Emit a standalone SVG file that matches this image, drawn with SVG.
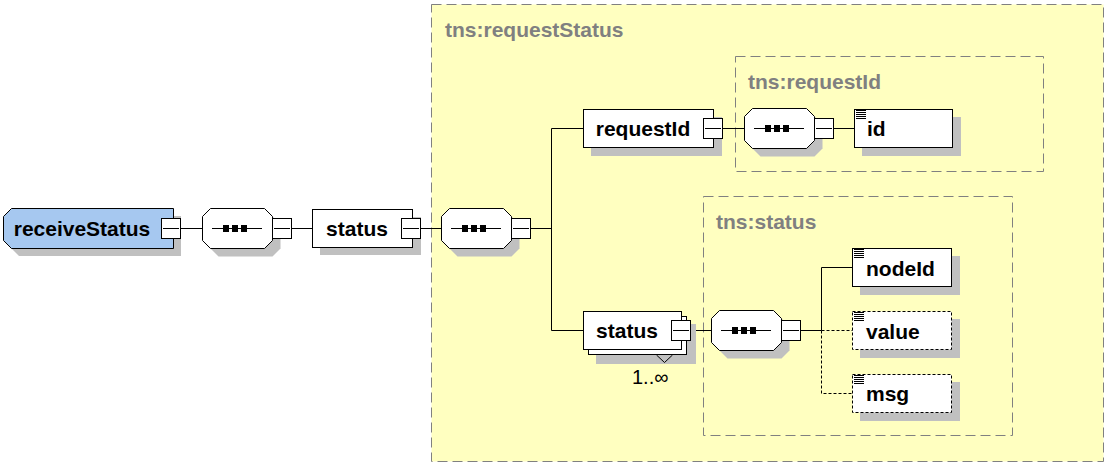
<svg xmlns="http://www.w3.org/2000/svg" width="1107" height="465" viewBox="0 0 1107 465">
<style>
.bg{fill:#ffffff}
.grp{fill:#ffffc0;stroke:#808080;stroke-width:1;stroke-dasharray:10,5}
.grpsub{fill:none;stroke:#808080;stroke-width:1;stroke-dasharray:10,5}
.gl{font-family:"Liberation Sans",Arial,sans-serif;font-size:21px;font-weight:bold;fill:#808080}
.sh{fill:#c0c0c0;stroke:none}
.box{fill:#ffffff;stroke:#000000;stroke-width:1}
.opt{fill:#ffffff;stroke:#000000;stroke-width:1;stroke-dasharray:3,2}
.root{fill:#a6c8f0;stroke:#000000;stroke-width:1}
.t{font-family:"Liberation Sans",Arial,sans-serif;font-size:21px;font-weight:bold;fill:#000000}
.tr{font-family:"Liberation Sans",Arial,sans-serif;font-size:20px;fill:#000000}
.ln{stroke:#000000;stroke-width:1;fill:none}
.dl{stroke:#000000;stroke-width:1;fill:none;stroke-dasharray:3,2}
</style>
<defs>
<g id="seq">
<polygon class="sh" points="17.5,8.5 71.5,8.5 79.5,16.5 79.5,40.5 71.5,48.5 17.5,48.5 9.5,40.5 9.5,16.5"/>
<polygon class="box" points="9.5,0.5 63.5,0.5 71.5,8.5 71.5,32.5 63.5,40.5 9.5,40.5 1.5,32.5 1.5,8.5"/>
<line class="ln" x1="11" y1="20.5" x2="61" y2="20.5"/>
<rect x="22" y="17" width="6" height="7" fill="#000"/>
<rect x="31" y="17" width="6" height="7" fill="#000"/>
<rect x="40" y="17" width="6" height="7" fill="#000"/>
<rect class="box" x="71.5" y="10.5" width="19" height="20"/>
<line class="ln" x1="73" y1="20.5" x2="89" y2="20.5"/>
</g>
<g id="exp">
<rect class="box" x="0.5" y="0.5" width="19" height="20"/>
<line class="ln" x1="2" y1="10.5" x2="18" y2="10.5"/>
</g>
<g id="icon">
<line class="ln" x1="0" y1="0.5" x2="10" y2="0.5"/>
<line class="ln" x1="0" y1="2.5" x2="10" y2="2.5"/>
<line class="ln" x1="0" y1="4.5" x2="10" y2="4.5"/>
<line class="ln" x1="0" y1="6.5" x2="10" y2="6.5"/>
<line class="ln" x1="0" y1="8.5" x2="10" y2="8.5"/>
</g>
</defs>
<rect class="bg" x="0" y="0" width="1107" height="465"/>

<g id="grp-requestStatus">
<rect class="grp" x="431.5" y="4.5" width="672" height="457"/>
<text class="gl" x="445" y="37">tns:requestStatus</text>
</g>
<g id="grp-requestId">
<rect class="grpsub" x="735.5" y="56.5" width="308" height="115"/>
<text class="gl" x="748" y="89">tns:requestId</text>
</g>
<g id="grp-status">
<rect class="grpsub" x="703.5" y="196.5" width="309" height="239"/>
<text class="gl" x="716" y="229">tns:status</text>
</g>

<g id="connectors">
<line class="ln" x1="181" y1="228.5" x2="203" y2="228.5"/>
<line class="ln" x1="292" y1="228.5" x2="313" y2="228.5"/>
<line class="ln" x1="421" y1="228.5" x2="442" y2="228.5"/>
<line class="ln" x1="531" y1="228.5" x2="551.5" y2="228.5"/>
<polyline class="ln" points="583,128.5 551.5,128.5 551.5,330.5 583,330.5"/>
<line class="ln" x1="723" y1="128.5" x2="745" y2="128.5"/>
<line class="ln" x1="834" y1="128.5" x2="855" y2="128.5"/>
<line class="ln" x1="690" y1="330.5" x2="712" y2="330.5"/>
<polyline class="ln" points="801,330.5 821.5,330.5 821.5,267.5 853,267.5"/>
<line class="dl" x1="821.5" y1="330.5" x2="853" y2="330.5"/>
<polyline class="dl" points="821.5,330.5 821.5,393.5 853,393.5"/>
</g>

<g id="node-receiveStatus">
<polygon class="sh" points="19,216 181,216 181,256 19,256 11,248 11,224"/>
<polygon class="root" points="11.5,208.5 173.5,208.5 173.5,248.5 11.5,248.5 3.5,240.5 3.5,216.5"/>
<text class="t" x="82" y="236" text-anchor="middle">receiveStatus</text>
<use href="#exp" x="161" y="218"/>
</g>

<g id="seq-1"><use href="#seq" x="201" y="208"/></g>

<g id="node-status">
<rect class="sh" x="320" y="217" width="101" height="38"/>
<rect class="box" x="312.5" y="209.5" width="100" height="38"/>
<text class="t" x="357" y="236" text-anchor="middle">status</text>
<use href="#exp" x="401" y="218"/>
</g>

<g id="seq-2"><use href="#seq" x="440" y="208"/></g>

<g id="node-requestId">
<rect class="sh" x="591" y="117" width="131" height="39"/>
<rect class="box" x="583.5" y="109.5" width="130" height="38"/>
<text class="t" x="643" y="136" text-anchor="middle">requestId</text>
<use href="#exp" x="703" y="118"/>
</g>

<g id="seq-3"><use href="#seq" x="743" y="108"/></g>

<g id="node-id">
<rect class="sh" x="862" y="117" width="99" height="39"/>
<rect class="box" x="854.5" y="109.5" width="98" height="38"/>
<use href="#icon" x="856" y="110"/>
<text class="t" x="867" y="136">id</text>
</g>

<g id="node-status-multi">
<rect class="sh" x="596" y="324" width="100" height="40"/>
<rect class="box" x="588.5" y="316.5" width="98" height="38"/>
<rect class="box" x="583.5" y="311.5" width="98" height="38"/>
<polyline class="ln" points="656.5,355 664.5,362.5 672.5,355"/>
<text class="t" x="627" y="338" text-anchor="middle">status</text>
<use href="#exp" x="671" y="320"/>
<text class="tr" x="632" y="384">1..∞</text>
</g>

<g id="seq-4"><use href="#seq" x="710" y="310"/></g>

<g id="node-nodeId">
<rect class="sh" x="860" y="256" width="100" height="39"/>
<rect class="box" x="852.5" y="248.5" width="99" height="38"/>
<use href="#icon" x="854" y="249"/>
<text class="t" x="866" y="276">nodeId</text>
</g>

<g id="node-value">
<rect class="sh" x="860" y="319" width="100" height="39"/>
<rect class="opt" x="852.5" y="311.5" width="99" height="38"/>
<use href="#icon" x="854" y="312"/>
<text class="t" x="866" y="339">value</text>
</g>

<g id="node-msg">
<rect class="sh" x="860" y="382" width="100" height="39"/>
<rect class="opt" x="852.5" y="374.5" width="99" height="38"/>
<use href="#icon" x="854" y="375"/>
<text class="t" x="866" y="401">msg</text>
</g>
</svg>
